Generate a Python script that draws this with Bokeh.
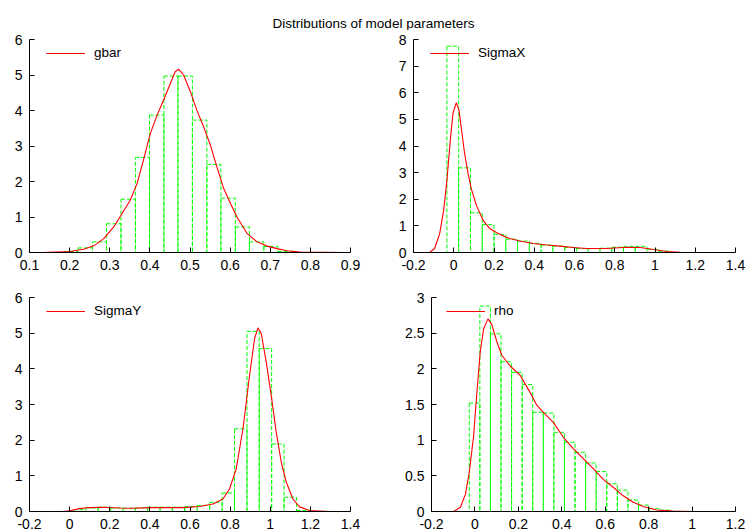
from bokeh.plotting import figure
from bokeh.layouts import column, row
from bokeh.models import Range1d, FixedTicker, Legend, LegendItem, ColumnDataSource
from bokeh.embed import file_html
from bokeh.resources import INLINE
from bokeh.core.properties import value

FONT = "Liberation Sans"
TITLE = "Distributions of model parameters"

# ---- gbar ----
gbar_edges = [0.186, 0.221, 0.257, 0.292, 0.328, 0.364, 0.399, 0.435, 0.470,
              0.506, 0.542, 0.577, 0.613, 0.648, 0.684, 0.719, 0.755]
gbar_hist = [0.03, 0.13, 0.30, 0.81, 1.50, 2.68, 3.87, 4.97, 4.97, 3.73,
             2.48, 1.53, 0.72, 0.30, 0.17, 0.03]
gbar_kde_x = [0.131, 0.200, 0.235, 0.262, 0.285, 0.310, 0.328, 0.351, 0.368,
              0.384, 0.401, 0.418, 0.434, 0.451, 0.463, 0.472, 0.484, 0.501,
              0.517, 0.534, 0.551, 0.567, 0.584, 0.601, 0.617, 0.642, 0.667,
              0.692, 0.717, 0.742, 0.775, 0.887]
gbar_kde_y = [0.00, 0.03, 0.09, 0.20, 0.39, 0.72, 1.05, 1.47, 1.94, 2.60,
              3.35, 3.87, 4.29, 4.76, 5.09, 5.16, 5.00, 4.53, 4.01, 3.54,
              3.02, 2.41, 1.80, 1.38, 1.00, 0.54, 0.30, 0.18, 0.11, 0.05,
              0.01, 0.00]

# ---- SigmaX ----
sigx_edges = [-0.034, 0.0245, 0.083, 0.1415, 0.200, 0.2585, 0.317, 0.3755,
              0.434, 0.4925, 0.551, 0.6095, 0.668, 0.7265, 0.785, 0.8435,
              0.902, 0.9605, 1.019, 1.0775]
sigx_hist = [7.75, 3.18, 1.49, 1.05, 0.68, 0.50, 0.43, 0.34, 0.28, 0.24,
             0.19, 0.15, 0.15, 0.16, 0.20, 0.23, 0.23, 0.12, 0.05]
sigx_kde_x = [-0.120, -0.095, -0.070, -0.050, -0.034, -0.017, -0.004, 0.013,
              0.026, 0.039, 0.054, 0.071, 0.087, 0.112, 0.146, 0.179, 0.212,
              0.262, 0.328, 0.395, 0.461, 0.528, 0.594, 0.660, 0.760, 0.860,
              0.926, 0.993, 1.060, 1.126, 1.190]
sigx_kde_y = [0.00, 0.15, 0.71, 1.59, 2.72, 4.22, 5.22, 5.63, 5.34, 4.59,
              3.72, 2.97, 2.40, 1.78, 1.21, 0.90, 0.75, 0.56, 0.43, 0.34,
              0.28, 0.24, 0.19, 0.15, 0.15, 0.20, 0.19, 0.11, 0.04, 0.01,
              0.00]

# ---- SigmaY ----
sigy_edges = [0.019, 0.081, 0.142, 0.204, 0.266, 0.327, 0.389, 0.451, 0.512,
              0.574, 0.636, 0.698, 0.760, 0.822, 0.884, 0.945, 1.007, 1.069,
              1.131, 1.192]
sigy_hist = [0.05, 0.10, 0.12, 0.10, 0.09, 0.10, 0.12, 0.12, 0.12, 0.14,
             0.17, 0.26, 0.52, 2.32, 5.05, 4.57, 1.89, 0.40, 0.03]
sigy_kde_x = [-0.033, 0.000, 0.050, 0.100, 0.166, 0.249, 0.316, 0.400, 0.480,
              0.565, 0.648, 0.714, 0.764, 0.797, 0.830, 0.864, 0.897, 0.922,
              0.939, 0.955, 0.980, 1.005, 1.030, 1.055, 1.080, 1.113, 1.146,
              1.196, 1.296]
sigy_kde_y = [0.00, 0.02, 0.08, 0.11, 0.12, 0.10, 0.09, 0.11, 0.11, 0.11,
              0.14, 0.21, 0.35, 0.63, 1.19, 2.32, 3.82, 4.85, 5.15, 4.99,
              4.19, 3.25, 2.22, 1.38, 0.82, 0.35, 0.13, 0.03, 0.00]

# ---- rho ----
rho_edges = [-0.026, 0.0227, 0.0714, 0.1201, 0.1688, 0.2175, 0.2662, 0.3149,
             0.3636, 0.4123, 0.461, 0.5097, 0.5584, 0.6071, 0.6558, 0.7045,
             0.7532, 0.8019, 0.8506, 0.8993]
rho_hist = [1.52, 2.88, 2.49, 2.10, 1.95, 1.78, 1.39, 1.38, 1.11, 0.97,
            0.83, 0.68, 0.56, 0.39, 0.30, 0.16, 0.09, 0.04, 0.02]
rho_kde_x = [-0.098, -0.067, -0.044, -0.026, -0.006, 0.009, 0.0245, 0.040,
             0.060, 0.078, 0.101, 0.124, 0.162, 0.208, 0.254, 0.285, 0.315,
             0.361, 0.407, 0.453, 0.499, 0.545, 0.591, 0.637, 0.683, 0.729,
             0.775, 0.836, 0.913, 1.000]
rho_kde_y = [0.00, 0.06, 0.24, 0.55, 1.06, 1.67, 2.24, 2.56, 2.70, 2.62,
             2.38, 2.19, 2.04, 1.91, 1.67, 1.49, 1.39, 1.25, 1.04, 0.88,
             0.74, 0.60, 0.45, 0.34, 0.22, 0.13, 0.07, 0.02, 0.005, 0.00]

# ---- tick labels ----
ticks_gbar_x = [0.1, 0.2, 0.3, 0.4, 0.5, 0.6, 0.7, 0.8, 0.9]
labels_gbar_x = ["0.1", "0.2", "0.3", "0.4", "0.5", "0.6", "0.7", "0.8", "0.9"]
ticks_wide_x = [-0.2, 0.0, 0.2, 0.4, 0.6, 0.8, 1.0, 1.2, 1.4]
labels_wide_x = ["-0.2", "0", "0.2", "0.4", "0.6", "0.8", "1", "1.2", "1.4"]
ticks_rho_x = [-0.2, 0.0, 0.2, 0.4, 0.6, 0.8, 1.0, 1.2]
labels_rho_x = ["-0.2", "0", "0.2", "0.4", "0.6", "0.8", "1", "1.2"]
ticks_y6 = [0, 1, 2, 3, 4, 5, 6]
labels_y6 = ["0", "1", "2", "3", "4", "5", "6"]
ticks_y8 = [0, 1, 2, 3, 4, 5, 6, 7, 8]
labels_y8 = ["0", "1", "2", "3", "4", "5", "6", "7", "8"]
ticks_y3 = [0, 0.5, 1, 1.5, 2, 2.5, 3]
labels_y3 = ["0", "0.5", "1", "1.5", "2", "2.5", "3"]

RED = "#ff0000"
GREEN = "#00ff00"


def panel(name, edges, hist, kx, ky, xr, yr, xt, xl, yt, yl,
          height, left, right, top, bottom, leg_x, leg_y):
    p = figure(width=373, height=height, output_backend="svg",
               toolbar_location=None, x_range=Range1d(*xr), y_range=Range1d(*yr),
               min_border_left=left, min_border_right=right,
               min_border_top=top, min_border_bottom=bottom)
    p.outline_line_color = None
    p.xgrid.visible = False
    p.ygrid.visible = False
    p.background_fill_color = "white"
    p.border_fill_color = "white"

    bars = ColumnDataSource(dict(left=edges[:-1], right=edges[1:], top=hist,
                                 bottom=[0] * len(hist)))
    p.quad(left="left", right="right", top="top", bottom="bottom", source=bars,
           fill_color=None, line_color=GREEN, line_width=1,
           line_dash="4 2")
    curve = p.line(kx, ky, line_color=RED, line_width=1.1)

    for ax, ticks, labels in ((p.xaxis[0], xt, xl), (p.yaxis[0], yt, yl)):
        ax.ticker = FixedTicker(ticks=ticks, minor_ticks=[])
        ax.major_label_overrides = {t: s for t, s in zip(ticks, labels)}
        ax.axis_line_color = "black"
        ax.axis_line_width = 1
        ax.major_tick_line_color = "black"
        ax.major_tick_in = 5
        ax.major_tick_out = 0
        ax.minor_tick_line_color = None
        ax.major_label_text_font = FONT
        ax.major_label_text_font_size = "14px"
        ax.major_label_text_color = "black"
    p.xaxis[0].major_label_standoff = 7
    p.yaxis[0].major_label_standoff = 7

    legend = Legend(items=[LegendItem(label=name, renderers=[curve], index=0)],
                    location=(leg_x, leg_y), margin=0, padding=0, spacing=0,
                    glyph_width=39, glyph_height=14, label_height=14,
                    label_standoff=9, border_line_color=None,
                    background_fill_alpha=0,
                    label_text_font=FONT, label_text_font_size="13.5px",
                    label_text_color="black")
    p.add_layout(legend)
    return p


p1 = panel("gbar", gbar_edges, gbar_hist, gbar_kde_x, gbar_kde_y,
           (0.1, 0.9), (0, 6), ticks_gbar_x, labels_gbar_x, ticks_y6, labels_y6,
           250, 29, 23, 9, 28, 17, 192)
p2 = panel("SigmaX", sigx_edges, sigx_hist, sigx_kde_x, sigx_kde_y,
           (-0.2, 1.4), (0, 8), ticks_wide_x, labels_wide_x, ticks_y8, labels_y8,
           250, 40, 11, 9, 28, 17, 192)
p3 = panel("SigmaY", sigy_edges, sigy_hist, sigy_kde_x, sigy_kde_y,
           (-0.2, 1.4), (0, 6), ticks_wide_x, labels_wide_x, ticks_y6, labels_y6,
           251, 29, 23, 17, 20, 17, 193)
p4 = panel("rho", rho_edges, rho_hist, rho_kde_x, rho_kde_y,
           (-0.2, 1.2), (0, 3), ticks_rho_x, labels_rho_x, ticks_y3, labels_y3,
           251, 58, 11, 17, 20, 15, 193)

# header strip carrying the overall title
head = figure(width=746, height=30, output_backend="svg", toolbar_location=None,
              x_range=Range1d(0, 746), y_range=Range1d(30, 0),
              min_border=0)
head.axis.visible = False
head.grid.visible = False
head.outline_line_color = None
head.text(x=[373], y=[22.5], text=[TITLE], text_align="center",
          text_baseline="alphabetic", text_font=value(FONT),
          text_font_size="13.5px", text_color="black")

layout = column(head, row(p1, p2), row(p3, p4))
open("out.html", "w").write(file_html(layout, INLINE))
